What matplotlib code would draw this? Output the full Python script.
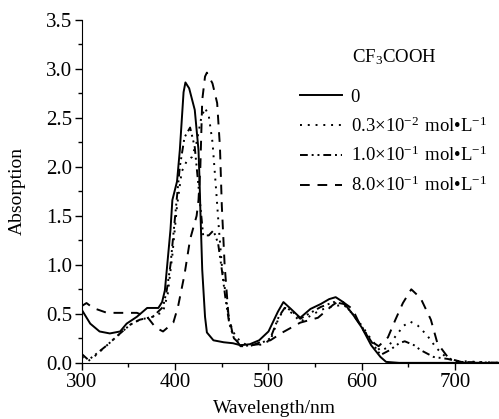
import matplotlib
matplotlib.use('Agg')
import matplotlib.pyplot as plt
from matplotlib.ticker import MultipleLocator, FormatStrFormatter

plt.rcParams['font.family'] = ['Liberation Serif', 'DejaVu Serif']
plt.rcParams['mathtext.fontset'] = 'custom'
plt.rcParams['mathtext.rm'] = 'Liberation Serif'

# 0 mol/L
wl_0 = [300, 309, 319, 330, 341, 348, 359, 370, 382, 386, 389, 395, 397, 402, 405, 409, 411,
        415, 421, 425, 426, 427, 429, 432, 434, 441, 452, 462, 470, 480, 490, 500, 510, 516,
        524, 534, 545, 556, 565, 572, 580, 590, 600, 610, 620, 626, 640, 700, 747]
ab_0 = [0.54, 0.40, 0.32, 0.30, 0.32, 0.40, 0.47, 0.56, 0.56, 0.62, 0.74, 1.36, 1.66, 1.85, 2.17, 2.76, 2.86,
        2.80, 2.58, 2.17, 1.90, 1.56, 0.95, 0.47, 0.31, 0.23, 0.21, 0.20, 0.18, 0.19, 0.23, 0.32, 0.52, 0.62,
        0.55, 0.46, 0.55, 0.60, 0.65, 0.67, 0.62, 0.50, 0.36, 0.18, 0.06, 0.01, 0.0, 0.0, 0.0]

# 0.3x10^-2 mol/L
wl_1 = [300, 307, 314, 327, 341, 352, 362, 376, 387, 392, 397, 402, 407, 412, 418, 423, 428, 432,
        436, 440, 444, 447, 450, 454, 458, 465, 475, 490, 502, 511, 518, 526, 534, 545, 556, 570,
        581, 590, 600, 610, 620, 628, 636, 645, 652, 660, 670, 680, 690, 700, 747]
ab_1 = [0.06, 0.02, 0.07, 0.18, 0.30, 0.39, 0.44, 0.47, 0.52, 0.70, 1.10, 1.60, 1.95, 2.05, 2.10, 2.25, 2.50, 2.60,
        2.52, 2.25, 1.75, 1.35, 1.00, 0.70, 0.42, 0.26, 0.19, 0.18, 0.23, 0.46, 0.56, 0.50, 0.42, 0.48, 0.54, 0.58,
        0.59, 0.50, 0.38, 0.24, 0.12, 0.16, 0.27, 0.38, 0.42, 0.38, 0.28, 0.15, 0.06, 0.02, 0.0]

# 1.0x10^-1 mol/L
wl_2 = [300, 307, 314, 327, 341, 352, 362, 376, 387, 391, 395, 400, 405, 410, 416, 421, 425, 430,
        436, 441, 446, 450, 454, 458, 463, 472, 490, 502, 511, 518, 526, 534, 545, 556, 570, 581,
        590, 600, 610, 620, 630, 640, 646, 656, 663, 677, 692, 705, 747]
ab_2 = [0.09, 0.03, 0.08, 0.18, 0.30, 0.39, 0.44, 0.47, 0.57, 0.74, 1.00, 1.50, 2.00, 2.30, 2.40, 2.20, 1.80, 1.30,
        1.30, 1.35, 1.22, 0.95, 0.65, 0.40, 0.25, 0.17, 0.19, 0.25, 0.47, 0.57, 0.52, 0.45, 0.51, 0.57, 0.62, 0.60,
        0.50, 0.37, 0.22, 0.08, 0.13, 0.20, 0.22, 0.18, 0.13, 0.06, 0.04, 0.01, 0.0]

# 8.0x10^-1 mol/L
wl_3 = [300, 305, 312, 327, 344, 359, 370, 379, 387, 398, 403, 410, 416, 423, 425, 427, 429, 432,
        434, 440, 445, 448, 450, 453, 457, 462, 470, 480, 491, 502, 515, 534, 553, 569, 577, 590,
        599, 610, 618, 628, 636, 644, 653, 663, 674, 681, 692, 699, 710, 747]
ab_3 = [0.58, 0.61, 0.56, 0.51, 0.51, 0.51, 0.47, 0.36, 0.32, 0.41, 0.57, 0.90, 1.26, 1.50, 1.66, 2.00, 2.68, 2.92,
        2.96, 2.85, 2.65, 2.20, 1.60, 1.00, 0.50, 0.28, 0.17, 0.17, 0.21, 0.23, 0.31, 0.41, 0.46, 0.59, 0.64, 0.55,
        0.37, 0.22, 0.17, 0.26, 0.44, 0.61, 0.75, 0.66, 0.44, 0.20, 0.06, 0.03, 0.0, 0.0]

labels = ['0',
          r'$\mathregular{0.3×10^{-2}\ mol•L^{-1}}$',
          r'$\mathregular{1.0×10^{-1}\ mol•L^{-1}}$',
          r'$\mathregular{8.0×10^{-1}\ mol•L^{-1}}$']
legend_title = r'$\mathregular{CF_3COOH}$'

styles = ['-', (0, (1, 3)), (0, (4, 2, 1, 2, 1, 2)), (0, (5, 4))]

fig = plt.figure(figsize=(4.99, 4.19), dpi=100)
ax = fig.add_axes([0.164, 0.134, 0.836, 0.819])

series = [(wl_0, ab_0), (wl_1, ab_1), (wl_2, ab_2), (wl_3, ab_3)]
for (wl, ab), ls, lab in zip(series, styles, labels):
    ax.plot(wl, ab, color='black', linestyle=ls, linewidth=1.4, label=lab)

ax.set_xlim(300, 747)
ax.set_ylim(0, 3.5)
ax.xaxis.set_major_locator(MultipleLocator(100))
ax.xaxis.set_minor_locator(MultipleLocator(50))
ax.yaxis.set_major_locator(MultipleLocator(0.5))
ax.yaxis.set_minor_locator(MultipleLocator(0.25))
ax.yaxis.set_major_formatter(FormatStrFormatter('%.1f'))
ax.tick_params(which='major', direction='out', length=5, width=1, labelsize=15, pad=2)
ax.tick_params(which='minor', direction='out', length=3, width=1)
ax.spines['top'].set_visible(False)
ax.spines['right'].set_visible(False)

ax.set_xlabel('Wavelength/nm', fontsize=14)
ax.set_ylabel('Absorption', fontsize=14)
ax.xaxis.set_label_coords(0.463, -0.108)
ax.yaxis.set_label_coords(-0.135, 0.5)

ax.legend(loc='upper left', bbox_to_anchor=(0.601, 0.788), bbox_transform=fig.transFigure,
          frameon=False, fontsize=13.5, handlelength=2.25, handletextpad=0.45,
          labelspacing=0.55, borderpad=0, borderaxespad=0)
fig.text(0.705, 1 - 57 / 419, legend_title, fontsize=13.5, ha='left', va='center')

fig.savefig('out.png', dpi=100)
